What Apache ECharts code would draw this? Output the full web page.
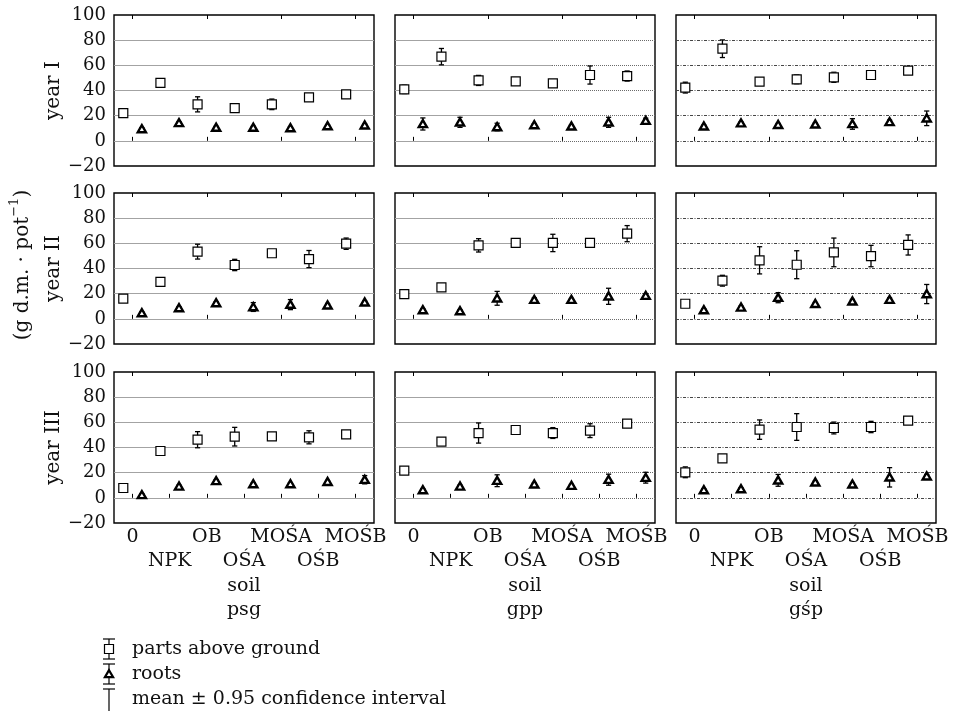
<!DOCTYPE html>
<html>
<head>
<meta charset="utf-8">
<script src="https://cdn.jsdelivr.net/npm/echarts@6/dist/echarts.min.js"></script>
<style>
  html, body { margin: 0; padding: 0; background: #fff; }
  #chart { width: 957px; height: 722px; }
</style>
</head>
<body>
<div id="chart"></div>
<script>
// Treatments, soils and years
const treatments = ['0', 'NPK', 'OB', 'OŚA', 'MOŚA', 'OŚB', 'MOŚB'];
const soils = ['psg', 'gpp', 'gśp'];
const years = ['year I', 'year II', 'year III'];
const yMin = -20, yMax = 100, yStep = 20;

// Mean dry mass (g d.m. per pot) and half-width of the 0.95 confidence interval
// soil psg
const psgPartsI    = [22.0, 46.0, 29.0, 26.0, 29.0, 34.5, 37.0];
const psgPartsCiI  = [1.5, 1.5, 6.0, 1.5, 4.2, 1.5, 1.5];
const psgRootsI    = [9.4, 14.2, 10.5, 10.5, 10.2, 11.8, 12.3];
const psgRootsCiI  = [1.0, 1.0, 1.0, 1.0, 1.0, 1.0, 1.0];
const psgPartsII   = [16.0, 29.3, 53.4, 42.8, 52.1, 47.5, 59.7];
const psgPartsCiII = [1.5, 1.5, 5.9, 4.5, 1.5, 6.8, 4.5];
const psgRootsII   = [4.6, 8.6, 12.6, 9.4, 11.3, 10.7, 13.1];
const psgRootsCiII = [1.0, 1.0, 1.0, 3.5, 4.0, 1.5, 1.0];
const psgPartsIII   = [7.8, 37.2, 46.2, 48.6, 48.9, 48.1, 50.5];
const psgPartsCiIII = [1.5, 3.2, 6.4, 7.4, 1.5, 5.2, 1.5];
const psgRootsIII   = [2.3, 9.1, 13.4, 11.0, 11.0, 12.8, 14.4];
const psgRootsCiIII = [1.0, 1.0, 1.0, 1.0, 1.0, 1.0, 3.3];
// soil gpp
const gppPartsI    = [40.9, 66.9, 48.0, 47.3, 45.7, 52.3, 51.5];
const gppPartsCiI  = [3.3, 6.5, 4.0, 1.5, 1.5, 7.2, 4.0];
const gppRootsI    = [13.4, 14.7, 11.0, 12.6, 11.5, 14.7, 16.0];
const gppRootsCiI  = [4.8, 4.0, 3.0, 1.0, 1.0, 4.0, 2.0];
const gppPartsII   = [19.7, 25.0, 58.4, 60.3, 60.3, 60.3, 67.7];
const gppPartsCiII = [1.5, 2.0, 5.3, 1.5, 6.9, 1.5, 6.4];
const gppRootsII   = [7.0, 6.2, 16.3, 15.2, 15.2, 17.9, 18.4];
const gppRootsCiII = [1.0, 1.0, 5.5, 1.5, 1.0, 6.4, 1.5];
const gppPartsIII   = [21.6, 44.6, 51.5, 53.9, 51.5, 53.4, 58.9];
const gppPartsCiIII = [1.5, 1.5, 8.0, 1.5, 4.3, 5.5, 1.5];
const gppRootsIII   = [6.2, 9.1, 13.6, 10.7, 9.7, 14.4, 16.0];
const gppRootsCiIII = [1.0, 1.0, 4.7, 1.0, 1.0, 4.4, 4.3];
// soil gśp
const gspPartsI    = [42.3, 73.2, 47.0, 48.9, 50.5, 52.3, 55.8];
const gspPartsCiI  = [4.3, 7.0, 1.5, 3.5, 4.0, 1.5, 1.5];
const gspRootsI    = [11.5, 14.0, 12.8, 13.1, 13.4, 15.0, 17.9];
const gspRootsCiI  = [1.0, 1.0, 1.0, 1.0, 4.2, 1.5, 5.8];
const gspPartsII   = [12.0, 30.3, 46.5, 43.0, 52.8, 49.9, 58.7];
const gspPartsCiII = [1.5, 4.3, 10.8, 11.1, 11.4, 8.5, 8.0];
const gspRootsII   = [7.0, 9.1, 16.8, 12.0, 13.9, 15.2, 19.7];
const gspRootsCiII = [1.0, 1.0, 4.0, 1.0, 1.5, 1.5, 7.6];
const gspPartsIII   = [20.3, 31.4, 54.2, 56.3, 55.5, 56.3, 61.3];
const gspPartsCiIII = [4.3, 1.5, 7.7, 10.6, 4.7, 4.5, 1.5];
const gspRootsIII   = [6.2, 7.0, 13.9, 12.3, 10.7, 16.3, 17.1];
const gspRootsCiIII = [1.0, 1.0, 4.7, 1.0, 1.0, 7.7, 1.5];

// panels[soil][year]
const panels = [
  [
    { parts: psgPartsI, partsCi: psgPartsCiI, roots: psgRootsI, rootsCi: psgRootsCiI },
    { parts: psgPartsII, partsCi: psgPartsCiII, roots: psgRootsII, rootsCi: psgRootsCiII },
    { parts: psgPartsIII, partsCi: psgPartsCiIII, roots: psgRootsIII, rootsCi: psgRootsCiIII }
  ],
  [
    { parts: gppPartsI, partsCi: gppPartsCiI, roots: gppRootsI, rootsCi: gppRootsCiI },
    { parts: gppPartsII, partsCi: gppPartsCiII, roots: gppRootsII, rootsCi: gppRootsCiII },
    { parts: gppPartsIII, partsCi: gppPartsCiIII, roots: gppRootsIII, rootsCi: gppRootsCiIII }
  ],
  [
    { parts: gspPartsI, partsCi: gspPartsCiI, roots: gspRootsI, rootsCi: gspRootsCiI },
    { parts: gspPartsII, partsCi: gspPartsCiII, roots: gspRootsII, rootsCi: gspRootsCiII },
    { parts: gspPartsIII, partsCi: gspPartsCiIII, roots: gspRootsIII, rootsCi: gspRootsCiIII }
  ]
];

// Layout
const FONT = '"DejaVu Serif", "Liberation Serif", serif';
const INK = '#111';
const colLeft = [114, 395, 676];
const rowTop = [15, 193, 372];
const panelW = 260, panelH = 151;
const gridSolid = { color: '#a3a3a3', width: 1, type: 'solid' };
const gridDotted = { color: '#6a6a6a', width: 1, type: [1, 1] };
const gridDashDot = { color: '#454545', width: 1, type: [3, 1.5, 1, 1.5] };

// Mean marker with its confidence-interval whisker, shifted left (parts) or right (roots)
function meanWithInterval(kind) {
  return function (params, api) {
    const cat = api.value(0), m = api.value(1), ci = api.value(2);
    const band = api.size([1, 0])[0];
    const dx = (kind === 'parts' ? -0.25 : 0.25) * band;
    const c = api.coord([cat, m]);
    const hi = api.coord([cat, m + ci])[1];
    const lo = api.coord([cat, m - ci])[1];
    const x = c[0] + dx, y = c[1];
    const ln = { stroke: '#000', lineWidth: 1.3 };
    const children = [
      { type: 'line', shape: { x1: x, y1: hi, x2: x, y2: lo }, style: ln },
      { type: 'line', shape: { x1: x - 2.6, y1: hi, x2: x + 2.6, y2: hi }, style: ln },
      { type: 'line', shape: { x1: x - 2.6, y1: lo, x2: x + 2.6, y2: lo }, style: ln }
    ];
    if (kind === 'parts') {
      children.push({ type: 'rect', shape: { x: x - 4.5, y: y - 4.5, width: 9, height: 9 },
        style: { fill: '#fff', stroke: '#000', lineWidth: 1.2 } });
    } else {
      children.push({ type: 'polygon', shape: { points: [[x, y - 3.9], [x - 4.1, y + 3.2], [x + 4.1, y + 3.2]] },
        style: { fill: '#fff', stroke: '#000', lineWidth: 2.4, lineJoin: 'miter' } });
    }
    return { type: 'group', children };
  };
}

const grid = [], xAxis = [], yAxis = [], series = [];

function yAxisBase(gi) {
  return {
    gridIndex: gi, type: 'value', min: yMin, max: yMax, interval: yStep,
    axisLine: { show: false }, axisTick: { show: false }, axisLabel: { show: false },
    splitLine: { show: false }
  };
}

for (let s = 0; s < 3; s++) {
  for (let r = 0; r < 3; r++) {
    const gi = grid.length;
    grid.push({ left: colLeft[s], top: rowTop[r], width: panelW, height: panelH,
      show: true, borderColor: '#000', borderWidth: 1.4, backgroundColor: 'transparent' });
    const bottomRow = r === 2;
    // bottom axis: treatment labels on the last row, soil name below
    xAxis.push({
      gridIndex: gi, type: 'category', data: treatments, position: 'bottom',
      axisLine: { show: false },
      axisTick: { show: true, inside: true, alignWithLabel: true, length: 4, lineStyle: { color: '#000', width: 1 } },
      axisLabel: bottomRow ? {
        show: true, interval: 0, margin: 2, fontFamily: FONT, fontSize: 19, color: INK, lineHeight: 24,
        formatter: (v, i) => (i % 2 ? '\n' + v : v)
      } : { show: false },
      name: bottomRow ? 'soil\n' + soils[s] : '',
      nameLocation: 'middle', nameGap: 50,
      nameTextStyle: { fontFamily: FONT, fontSize: 19, color: INK, lineHeight: 24 }
    });
    const xi = xAxis.length - 1;
    // top axis: ticks only
    xAxis.push({
      gridIndex: gi, type: 'category', data: treatments, position: 'top',
      axisLine: { show: false },
      axisTick: { show: true, inside: true, alignWithLabel: true, length: 4, lineStyle: { color: '#000', width: 1 } },
      axisLabel: { show: false }
    });
    const ya = yAxisBase(gi);
    if (s === 0) {
      ya.axisLabel = { show: true, margin: 8, fontFamily: FONT, fontSize: 18, color: INK,
        formatter: v => (v < 0 ? '\u2212' + Math.abs(v) : String(v)) };
      ya.name = years[r];
      ya.nameLocation = 'middle';
      ya.nameRotate = 90;
      ya.nameGap = 42;
      ya.nameTextStyle = { fontFamily: FONT, fontSize: 20, color: INK };
      ya.splitLine = { show: true, showMinLine: false, showMaxLine: false, lineStyle: gridSolid };
    } else if (s === 2) {
      ya.splitLine = { show: true, showMinLine: false, showMaxLine: false, lineStyle: gridDashDot };
    }
    yAxis.push(ya);
    const yi = yAxis.length - 1;

    const p = panels[s][r];
    series.push({
      type: 'custom', name: 'parts above ground', xAxisIndex: xi, yAxisIndex: yi,
      renderItem: meanWithInterval('parts'), clip: false,
      encode: { x: 0, y: 1 },
      data: treatments.map((t, i) => [i, p.parts[i], p.partsCi[i]]), z: 3
    });
    series.push({
      type: 'custom', name: 'roots', xAxisIndex: xi, yAxisIndex: yi,
      renderItem: meanWithInterval('roots'), clip: false,
      encode: { x: 0, y: 1 },
      data: treatments.map((t, i) => [i, p.roots[i], p.rootsCi[i]]), z: 3
    });
  }
}

// gpp column: grid lines solid on the left part, dotted on the right part
const splitAt = 157;
for (let r = 0; r < 3; r++) {
  [[colLeft[1], splitAt, gridSolid], [colLeft[1] + splitAt, panelW - splitAt, gridDotted]].forEach(([left, width, style]) => {
    const gi = grid.length;
    grid.push({ left, top: rowTop[r], width, height: panelH, show: false });
    xAxis.push({ gridIndex: gi, type: 'value', min: 0, max: 1, show: false });
    const ya = yAxisBase(gi);
    ya.splitLine = { show: true, showMinLine: false, showMaxLine: false, lineStyle: style };
    yAxis.push(ya);
  });
}

// Legend drawn as graphic elements
const lgX = 109, lgText = 132, lgRows = [649, 674, 699];
const lnS = { stroke: '#000', lineWidth: 1.2 };
function whisker(cy, half) {
  return [
    { type: 'line', shape: { x1: lgX, y1: cy - half, x2: lgX, y2: cy + half }, style: lnS },
    { type: 'line', shape: { x1: lgX - 6, y1: cy - half, x2: lgX + 6, y2: cy - half }, style: lnS },
    { type: 'line', shape: { x1: lgX - 6, y1: cy + half, x2: lgX + 6, y2: cy + half }, style: lnS }
  ];
}
const legendItems = ['parts above ground', 'roots', 'mean \u00b1 0.95 confidence interval'];
const graphic = [];
graphic.push(...whisker(lgRows[0], 10));
graphic.push({ type: 'rect', shape: { x: lgX - 4.5, y: lgRows[0] - 4.5, width: 9, height: 9 },
  style: { fill: '#fff', stroke: '#000', lineWidth: 1.2 } });
graphic.push(...whisker(lgRows[1], 10));
graphic.push({ type: 'polygon', shape: { points: [[lgX, lgRows[1] - 3.9], [lgX - 4.1, lgRows[1] + 3.2], [lgX + 4.1, lgRows[1] + 3.2]] },
  style: { fill: '#fff', stroke: '#000', lineWidth: 2.2, lineJoin: 'miter' } });
graphic.push({ type: 'line', shape: { x1: lgX, y1: lgRows[2] - 10, x2: lgX, y2: lgRows[2] + 12 }, style: lnS });
graphic.push({ type: 'line', shape: { x1: lgX - 6, y1: lgRows[2] - 10, x2: lgX + 6, y2: lgRows[2] - 10 }, style: lnS });
legendItems.forEach((t, i) => {
  graphic.push({ type: 'text', x: lgText, y: lgRows[i],
    style: { text: t, fontFamily: FONT, fontSize: 19, fill: INK, align: 'left', verticalAlign: 'middle' } });
});
// Shared unit label
graphic.push({
  type: 'text', x: 23, y: 265, rotation: Math.PI / 2,
  style: {
    text: '{a|(g d.m. \u00b7 pot}{s|\u22121}{a|)}',
    align: 'center', verticalAlign: 'middle',
    rich: {
      a: { fontFamily: FONT, fontSize: 20, fill: INK, lineHeight: 30, verticalAlign: 'middle' },
      s: { fontFamily: FONT, fontSize: 13, fill: INK, lineHeight: 13, verticalAlign: 'top' }
    }
  }
});

const chart = echarts.init(document.getElementById('chart'), null, { renderer: 'canvas' });
chart.setOption({
  animation: false,
  backgroundColor: '#fff',
  textStyle: { fontFamily: FONT },
  grid, xAxis, yAxis, series, graphic
});
</script>
</body>
</html>
